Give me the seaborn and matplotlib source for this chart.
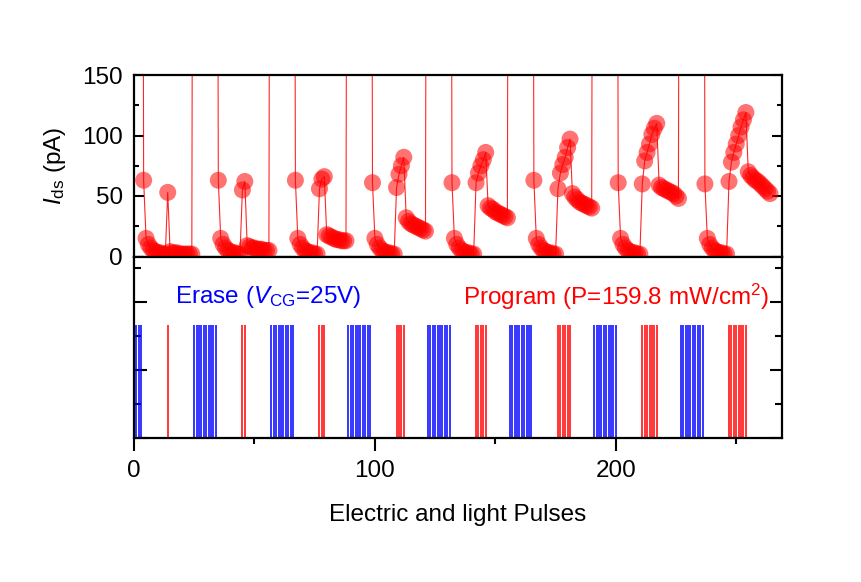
import numpy as np
import pandas as pd
import matplotlib
matplotlib.use("Agg")
import matplotlib.pyplot as plt
import seaborn as sns
from matplotlib.ticker import MultipleLocator

sns.set_theme(style="ticks")
plt.rcParams['font.family'] = ['Liberation Sans', 'DejaVu Sans']
plt.rcParams['mathtext.fontset'] = 'custom'
plt.rcParams['mathtext.rm'] = 'Liberation Sans'
plt.rcParams['mathtext.it'] = 'Liberation Sans:italic'
plt.rcParams['mathtext.bf'] = 'Liberation Sans:bold'
plt.rcParams['text.color'] = 'black'
plt.rcParams['axes.labelcolor'] = 'black'
plt.rcParams['xtick.color'] = 'black'
plt.rcParams['ytick.color'] = 'black'

# ---------------- data ----------------
erase_counts = [3, 10, 10, 10, 10, 10, 10, 10]   # erase pulses per cycle
erase_level = 1000                                 # off-scale current during erase (pA)

read_after_erase = [
    [63, 15, 10, 7, 5, 4, 3, 3, 2, 2],
    [63, 15, 10, 7, 5, 4, 3, 3, 2, 2],
    [63, 15, 10, 7, 5, 4, 3, 3, 2, 2],
    [61, 15, 10, 7, 5, 4, 3, 3, 2, 2],
    [61, 15, 10, 7, 5, 4, 3, 3, 2, 2],
    [63, 15, 10, 7, 5, 4, 3, 3, 2, 2],
    [61, 15, 10, 7, 5, 4, 3, 3, 2, 2],
    [60, 15, 10, 7, 5, 4, 3, 3, 2, 2],
]
program_reads = [
    [53],
    [55, 62],
    [56, 64, 66],
    [57, 68, 75, 82],
    [61, 69, 75, 80, 86],
    [56, 69, 76, 82, 90, 97],
    [60, 79, 86, 93, 101, 106, 110],
    [62, 78, 86, 93, 100, 107, 113, 119],
]
read_after_program = [
    [4, 3, 3, 3, 2, 2, 2, 2, 2, 2],
    [9, 8, 7, 7, 6, 6, 6, 5, 5, 5],
    [18, 17, 16, 15, 14, 14, 13, 13, 13],
    [32, 29, 27, 26, 25, 24, 23, 22, 21],
    [42, 40, 39, 37, 36, 35, 34, 33, 32],
    [52, 49, 47, 45, 44, 43, 42, 41, 40],
    [59, 57, 56, 55, 54, 53, 52, 50, 48],
    [70, 67, 65, 63, 62, 60, 58, 56, 54, 52],
]
pulse_on = 1.0

# ---------------- assemble the pulse sequence ----------------
rows = []
n = 1
for c in range(len(erase_counts)):
    for _ in range(erase_counts[c]):
        rows.append((n, erase_level, 'erase')); n += 1
    for v in read_after_erase[c]:
        rows.append((n, v, 'read')); n += 1
    for v in program_reads[c]:
        rows.append((n, v, 'program')); n += 1
    for v in read_after_program[c]:
        rows.append((n, v, 'read')); n += 1
df = pd.DataFrame(rows, columns=['pulse', 'current', 'kind'])
meas = df[df['kind'] != 'erase']
erase_x = df.loc[df['kind'] == 'erase', 'pulse'].values
prog_x = df.loc[df['kind'] == 'program', 'pulse'].values

# ---------------- figure ----------------
W, H = 862, 582
FS = 17.5
fig = plt.figure(figsize=(W / 100, H / 100), dpi=100)
fig.patch.set_facecolor('white')
left, right = 134 / W, 782 / W
ax1 = fig.add_axes([left, 1 - 256.5 / H, right - left, 181.5 / H])
ax2 = fig.add_axes([left, 1 - 438 / H, right - left, 181.5 / H], sharex=ax1)

RED = '#ff0000'
BLUE = '#0000ff'

sns.lineplot(data=df, x='pulse', y='current', sort=False, estimator=None,
             color=RED, lw=0.8, alpha=0.85, ax=ax1, zorder=2)
sns.scatterplot(data=meas, x='pulse', y='current', s=150, color=RED,
                alpha=0.55, edgecolor='none', linewidth=0, ax=ax1, zorder=3)

ax2.vlines(erase_x, 0, pulse_on, color=BLUE, lw=1.1)
ax2.vlines(prog_x, 0, pulse_on, color=RED, lw=1.1)

ax1.set_xlim(0, 269)
ax1.set_ylim(0, 150)
ax2.set_ylim(0, 1.6)

for ax in (ax1, ax2):
    ax.set_facecolor('white')
    for s in ax.spines.values():
        s.set_linewidth(1.6)
        s.set_color('black')
    ax.xaxis.set_major_locator(MultipleLocator(100))
    ax.xaxis.set_minor_locator(MultipleLocator(50))
    ax.tick_params(axis='x', which='major', direction='out', length=9, width=1.5,
                   bottom=True, top=False, labelsize=FS, pad=7)
    ax.tick_params(axis='x', which='minor', direction='out', length=4, width=1.5,
                   bottom=True, top=False)
    ax.set_xlabel('')
    ax.set_ylabel('')

ax1.yaxis.set_major_locator(MultipleLocator(50))
ax1.yaxis.set_minor_locator(MultipleLocator(25))
ax1.tick_params(axis='y', which='major', direction='in', length=7, width=1.5,
                left=True, right=True, labelsize=FS, pad=8)
ax1.tick_params(axis='y', which='minor', direction='in', length=3.5, width=1.5,
                left=True, right=True)
ax1.tick_params(axis='x', labelbottom=False)

ax2.yaxis.set_major_locator(MultipleLocator(0.6))
ax2.yaxis.set_minor_locator(MultipleLocator(0.3))
ax2.tick_params(axis='y', which='major', direction='in', length=9, width=1.5,
                left=True, right=True, labelleft=False)
ax2.tick_params(axis='y', which='minor', direction='in', length=5, width=1.5,
                left=True, right=True)
ax2.set_xticks([0, 100, 200])

ax1.set_ylabel(r'$\mathit{I}_{\rm ds}$ (pA)', fontsize=FS, labelpad=10)
ax2.set_xlabel('Electric and light Pulses', fontsize=FS, labelpad=16)

ax2.text(17, 1.24, r'Erase ($\mathit{V}_{\rm CG}$=25V)', color=BLUE,
         fontsize=FS, va='center', ha='left')
ax2.text(263.5, 1.24, r'Program (P=159.8 mW/cm$^2$)', color=RED,
         fontsize=FS, va='center', ha='right')

fig.savefig('out.png', dpi=100, facecolor='white')
